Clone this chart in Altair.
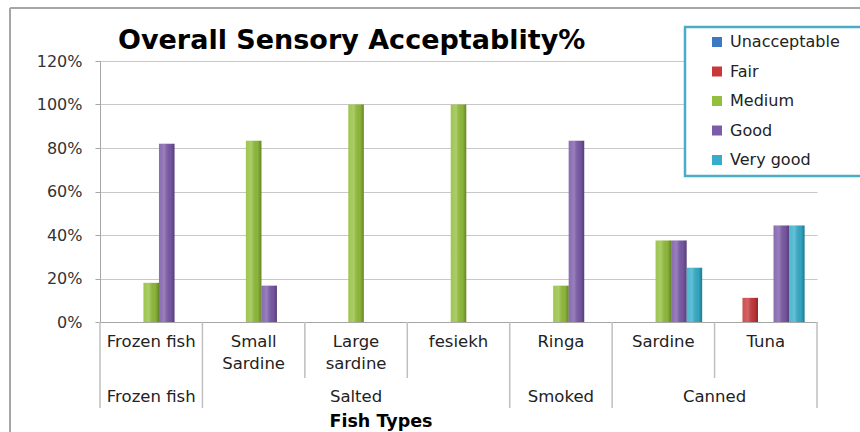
import altair as alt
import pandas as pd

# ---------------- data ----------------
categories = ["Frozen fish", "Small Sardine", "Large sardine", "fesiekh", "Ringa", "Sardine", "Tuna"]
cat_labels = ["Frozen fish", "Small\nSardine", "Large\nsardine", "fesiekh", "Ringa", "Sardine", "Tuna"]
groups = ["Frozen fish", "Salted", "Salted", "Salted", "Smoked", "Canned", "Canned"]
series = ["Unacceptable", "Fair", "Medium", "Good", "Very good"]
unacceptable = [0, 0, 0, 0, 0, 0, 0]
fair = [0, 0, 0, 0, 0, 0, 11.1]
medium = [18, 83.3, 100, 100, 16.7, 37.5, 0]
good = [82, 16.7, 0, 0, 83.3, 37.5, 44.4]
very_good = [0, 0, 0, 0, 0, 25, 44.4]
y_ticks = [0, 20, 40, 60, 80, 100, 120]
colors = ["#3C78C3", "#C8383A", "#93BF3C", "#7C5BA9", "#36AECB"]
title_text = "Overall Sensory Acceptablity%"
x_title = "Fish Types"

FONT = "DejaVu Sans"
W, H = 717, 261

values_by_series = [unacceptable, fair, medium, good, very_good]
rows = []
for s, vals in zip(series, values_by_series):
    for c, v in zip(categories, vals):
        rows.append({"cat": c, "series": s, "value": v})
df = pd.DataFrame(rows)

xscale = alt.Scale(domain=categories, paddingInner=0, paddingOuter=0)
yscale = alt.Scale(domain=[0, 120], nice=False)
x_axis = alt.Axis(title=None, labels=False, ticks=False, domain=True,
                  domainColor="#A6A6A6", grid=False)
y_axis = alt.Axis(title=None, values=y_ticks, labelExpr="datum.value + '%'",
                  labelFont=FONT, labelFontSize=16, labelColor="#333333",
                  labelPadding=13, tickSize=5, tickColor="#A6A6A6",
                  domainColor="#A6A6A6", gridColor="#C8C8C8")


def X(**kw):
    return alt.X("cat:N", sort=categories, scale=xscale, axis=x_axis, **kw)


def Y():
    return alt.Y("value:Q", scale=yscale, axis=y_axis)


xoff = alt.XOffset("series:N", sort=series,
                   scale=alt.Scale(domain=series, paddingInner=0, paddingOuter=0.8))

base = alt.Chart(df).transform_filter("datum.value > 0")

bars = base.mark_bar().encode(
    x=X(),
    xOffset=xoff,
    y=Y(),
    color=alt.Color("series:N", scale=alt.Scale(domain=series, range=colors),
                    legend=alt.Legend(title=None, orient="none", legendX=609, legendY=-27,
                                      symbolType="square", symbolSize=100,
                                      symbolStrokeWidth=0, labelFont=FONT,
                                      labelFontSize=16, labelColor="#222222",
                                      rowPadding=13.5, labelOffset=5, padding=0,
                                      labelExpr="(datum.label == 'Unacceptable' || datum.label == 'Fair' ? '\u00a0' : '') + datum.label")),
)

shade = base.mark_bar(color={
    "gradient": "linear", "x1": 0, "x2": 1, "y1": 0, "y2": 0,
    "stops": [
        {"offset": 0, "color": "rgba(255,255,255,0.10)"},
        {"offset": 0.35, "color": "rgba(255,255,255,0.22)"},
        {"offset": 0.75, "color": "rgba(0,0,0,0.05)"},
        {"offset": 1, "color": "rgba(0,0,0,0.30)"},
    ]}).encode(x=X(), xOffset=xoff, y=Y())

# category labels
cat_df = pd.DataFrame({"cat": categories, "label": cat_labels, "group": groups})
cat_text = alt.Chart(cat_df).mark_text(
    baseline="top", align="center", font=FONT, fontSize=16.5, lineBreak="\n",
    lineHeight=22, color="#222222"
).encode(x=X(), y=alt.value(H + 12), text="label:N")

# separators
short_b, long_b = [], []
for i, c in enumerate(categories):
    if i > 0 and groups[i] == groups[i - 1]:
        short_b.append({"cat": c})
    else:
        long_b.append({"cat": c})

short_rules = alt.Chart(alt.Data(values=short_b)).mark_rule(color="#BFBFBF", strokeWidth=1.5).encode(
    x=X(bandPosition=0), y=alt.value(H), y2=alt.value(H + 56))
long_rules = alt.Chart(alt.Data(values=long_b)).mark_rule(color="#BFBFBF", strokeWidth=1.5).encode(
    x=X(bandPosition=0), y=alt.value(H), y2=alt.value(H + 86))
end_rule = alt.Chart(alt.Data(values=[{"cat": categories[-1]}])).mark_rule(color="#BFBFBF", strokeWidth=1.5).encode(
    x=X(bandPosition=1), y=alt.value(H), y2=alt.value(H + 86))

# group labels
grp_mid, grp_edge = [], []
i = 0
while i < len(groups):
    j = i
    while j + 1 < len(groups) and groups[j + 1] == groups[i]:
        j += 1
    n = j - i + 1
    if n % 2 == 1:
        grp_mid.append({"cat": categories[i + n // 2], "g": groups[i]})
    else:
        grp_edge.append({"cat": categories[i + n // 2], "g": groups[i]})
    i = j + 1

grp_text_mid = alt.Chart(alt.Data(values=grp_mid)).mark_text(
    baseline="middle", font=FONT, fontSize=16.5, color="#222222").encode(
    x=X(), y=alt.value(H + 75), text="g:N")
grp_text_edge = alt.Chart(alt.Data(values=grp_edge)).mark_text(
    baseline="middle", font=FONT, fontSize=16.5, color="#222222").encode(
    x=X(bandPosition=0), y=alt.value(H + 75), text="g:N")

# title and axis title
title = alt.Chart(alt.Data(values=[{"t": title_text}])).mark_text(
    align="left", baseline="alphabetic", font=FONT, fontSize=27, fontWeight="bold",
    color="#000000").encode(x=alt.value(18), y=alt.value(-12), text="t:N")
xtitle = alt.Chart(alt.Data(values=[{"t": x_title}])).mark_text(
    align="center", baseline="middle", font=FONT, fontSize=17.5, fontWeight="bold",
    color="#000000").encode(x=alt.value(281), y=alt.value(361), text="t:N")

# legend box
legend_box = alt.Chart(alt.Data(values=[{}])).mark_rect(
    fill="white", stroke="#4BACC6", strokeWidth=2.5).encode(
    x=alt.value(585), x2=alt.value(775), y=alt.value(-34), y2=alt.value(115))

# outer frame
frame_top = alt.Chart(alt.Data(values=[{}])).mark_rule(color="#A6A6A6", strokeWidth=2).encode(
    x=alt.value(-90), x2=alt.value(770), y=alt.value(-53))
frame_left = alt.Chart(alt.Data(values=[{}])).mark_rule(color="#A6A6A6", strokeWidth=2).encode(
    x=alt.value(-90), y=alt.value(-53), y2=alt.value(380))

chart = alt.layer(
    bars, shade, legend_box, cat_text, short_rules, long_rules, end_rule,
    grp_text_mid, grp_text_edge, title, xtitle, frame_top, frame_left
).properties(
    width=W, height=H,
    padding={"left": 100, "top": 61, "right": 43, "bottom": 110},
    autosize=alt.AutoSizeParams(type="none"),
).configure_view(stroke=None)

chart.save("out.html", embed_options={"renderer": "svg", "actions": False})
